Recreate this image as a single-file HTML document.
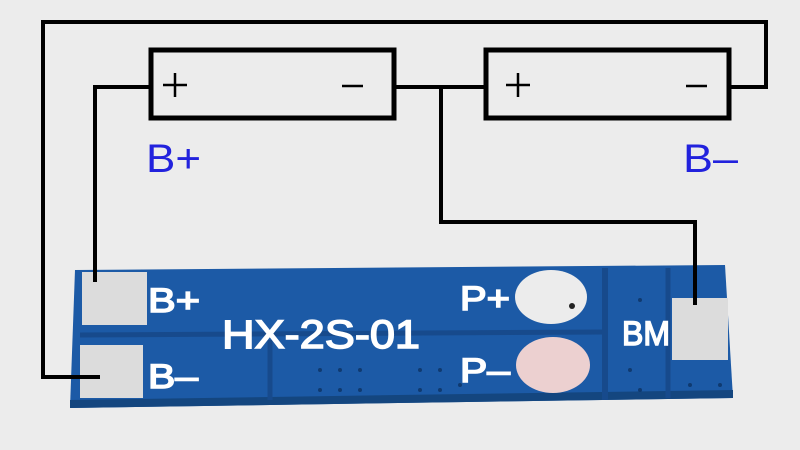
<!DOCTYPE html>
<html><head><meta charset="utf-8"><style>
body{margin:0;background:#ececec;}
svg{display:block}
</style></head><body>
<svg width="800" height="450" viewBox="0 0 800 450" xmlns="http://www.w3.org/2000/svg">
<rect width="800" height="450" fill="#ececec"/>
<!-- board -->
<polygon points="75,270 725,265 733,398 70,408" fill="#1c5aa6"/>
<polygon points="70,400 733,390 733,398 70,408" fill="#14467f"/>
<line x1="80" y1="335" x2="605" y2="332" stroke="#174a8c" stroke-width="5"/>
<line x1="605" y1="268" x2="605" y2="400" stroke="#174a8c" stroke-width="6"/>
<line x1="668" y1="268" x2="668" y2="398" stroke="#174a8c" stroke-width="5"/>
<line x1="270" y1="340" x2="270" y2="400" stroke="#174a8c" stroke-width="5"/>
<!-- pads -->
<rect x="82" y="272" width="65" height="53" fill="#dcdcdc"/>
<rect x="80" y="345" width="63" height="53" fill="#dcdcdc"/>
<rect x="672" y="298" width="56" height="62" fill="#dcdcdc"/>
<ellipse cx="551" cy="297" rx="36" ry="27" fill="#ececec"/>
<ellipse cx="553" cy="365" rx="37" ry="28" fill="#ecd0d0"/>
<circle cx="572" cy="306" r="3" fill="#222"/>
<g fill="#0f3a70">
<circle cx="320" cy="370" r="2"/><circle cx="340" cy="370" r="2"/><circle cx="320" cy="390" r="2"/><circle cx="340" cy="390" r="2"/>
<circle cx="360" cy="370" r="2"/><circle cx="360" cy="390" r="2"/><circle cx="420" cy="370" r="2"/><circle cx="440" cy="370" r="2"/>
<circle cx="420" cy="390" r="2"/><circle cx="440" cy="390" r="2"/><circle cx="460" cy="385" r="2"/><circle cx="640" cy="300" r="2"/>
<circle cx="630" cy="370" r="2"/><circle cx="640" cy="390" r="2"/><circle cx="690" cy="385" r="2"/><circle cx="720" cy="385" r="2"/>
</g>
<g font-family="Liberation Sans, sans-serif" fill="#fff" stroke="#fff" stroke-width="1.5" font-size="34">
<text x="148" y="312" textLength="52" lengthAdjust="spacingAndGlyphs">B+</text>
<text x="148" y="388" textLength="50" lengthAdjust="spacingAndGlyphs">B–</text>
<text x="222" y="348" font-size="40" textLength="198" lengthAdjust="spacingAndGlyphs">HX-2S-01</text>
<text x="460" y="310" textLength="50" lengthAdjust="spacingAndGlyphs">P+</text>
<text x="460" y="382" textLength="50" lengthAdjust="spacingAndGlyphs">P–</text>
<text x="622" y="345" textLength="48" lengthAdjust="spacingAndGlyphs">BM</text>
</g>
<!-- wires -->
<g fill="none" stroke="#000" stroke-width="4">
<polyline points="100,377 43,377 43,22 766,22 766,87 730,87"/>
<polyline points="150,87 95,87 95,282"/>
<polyline points="394,87 486,87"/>
<polyline points="441,87 441,222 695,222 695,305"/>
<rect x="151" y="50" width="243" height="68" stroke-width="5"/>
<rect x="486" y="50" width="243" height="68" stroke-width="5"/>
</g>
<g stroke="#000" stroke-width="2.5">
<line x1="163" y1="85" x2="187" y2="85"/><line x1="175" y1="73" x2="175" y2="97"/>
<line x1="342" y1="86" x2="363" y2="86"/>
<line x1="506" y1="85" x2="530" y2="85"/><line x1="518" y1="73" x2="518" y2="97"/>
<line x1="686" y1="86" x2="707" y2="86"/>
</g>
<g font-family="Liberation Sans, sans-serif" fill="#2222dd" font-size="40">
<text x="146" y="172" textLength="55" lengthAdjust="spacingAndGlyphs">B+</text>
<text x="683" y="172" textLength="55" lengthAdjust="spacingAndGlyphs">B–</text>
</g>
</svg>
</body></html>
